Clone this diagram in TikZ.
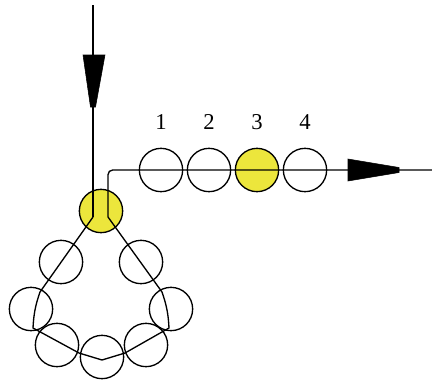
\documentclass[tikz,border=0pt]{standalone}
\usepackage{fontspec}
\setmainfont{Liberation Serif}
\definecolor{bead}{RGB}{236,230,60}
\begin{document}
\begin{tikzpicture}[x=0.75pt,y=-0.75pt,
  beadc/.style={circle,draw=black,line width=1pt,minimum size=32.5pt,inner sep=0pt},
  hot/.style={beadc,fill=bead},
  wire/.style={line width=1pt,black},
  num/.style={font=\fontsize{17}{17}\selectfont,inner sep=0pt},
  tip/.style={fill=black,draw=black,line width=0.4pt}]
\useasboundingbox (0,0) rectangle (432,380);
% filled beads first
\node[hot] (y) at (101,211) {};
\node[hot] (c3) at (257,170) {};
% wire coordinates
\coordinate (top) at (93,5);
\coordinate (j1) at (93,217);
\coordinate (j2) at (108,217);
\coordinate (cr) at (108,170);
\coordinate (out) at (432,170);
\coordinate (p1) at (40,292);
\coordinate (p2) at (33,328);
\coordinate (p3) at (79,353);
\coordinate (p4) at (102,360);
\coordinate (p5) at (125,353);
\coordinate (p6) at (169,328);
\coordinate (p7) at (162,292);
% wires
\draw[wire] (top) -- (j1);
\draw[wire,rounded corners=3.5] (j2) -- (cr) -- (out);
\draw[wire] (j1) -- (p1) to[bend right=8] (p2) -- (p3) -- (p4) -- (p5) -- (p6) to[bend right=8] (p7) -- (j2);
% arrowheads
\coordinate (a1) at (83,55); \coordinate (a2) at (105,55);
\coordinate (a3) at (95.5,107); \coordinate (a4) at (90.5,107);
\fill[tip] (a1) -- (a2) -- (a3) -- (a4) -- cycle;
\coordinate (b1') at (348,159); \coordinate (b2') at (348,181);
\coordinate (b3') at (399,172.5); \coordinate (b4') at (399,167.5);
\fill[tip] (b1') -- (b2') -- (b3') -- (b4') -- cycle;
% outlined beads
\node[beadc] (c1) at (161,170) {};
\node[beadc] (c2) at (209,170) {};
\node[beadc] (c4) at (305,170) {};
\node[beadc] (l1) at (61,262) {};
\node[beadc] (l2) at (31,309) {};
\node[beadc] (l3) at (57,345) {};
\node[beadc] (l4) at (102,357) {};
\node[beadc] (l5) at (146,345) {};
\node[beadc] (l6) at (171,309) {};
\node[beadc] (l7) at (141,262) {};
% labels
\node[num] (n1) at (161,122) {1};
\node[num] (n2) at (209,122) {2};
\node[num] (n3) at (257,122) {3};
\node[num] (n4) at (305,122) {4};
\end{tikzpicture}
\end{document}
